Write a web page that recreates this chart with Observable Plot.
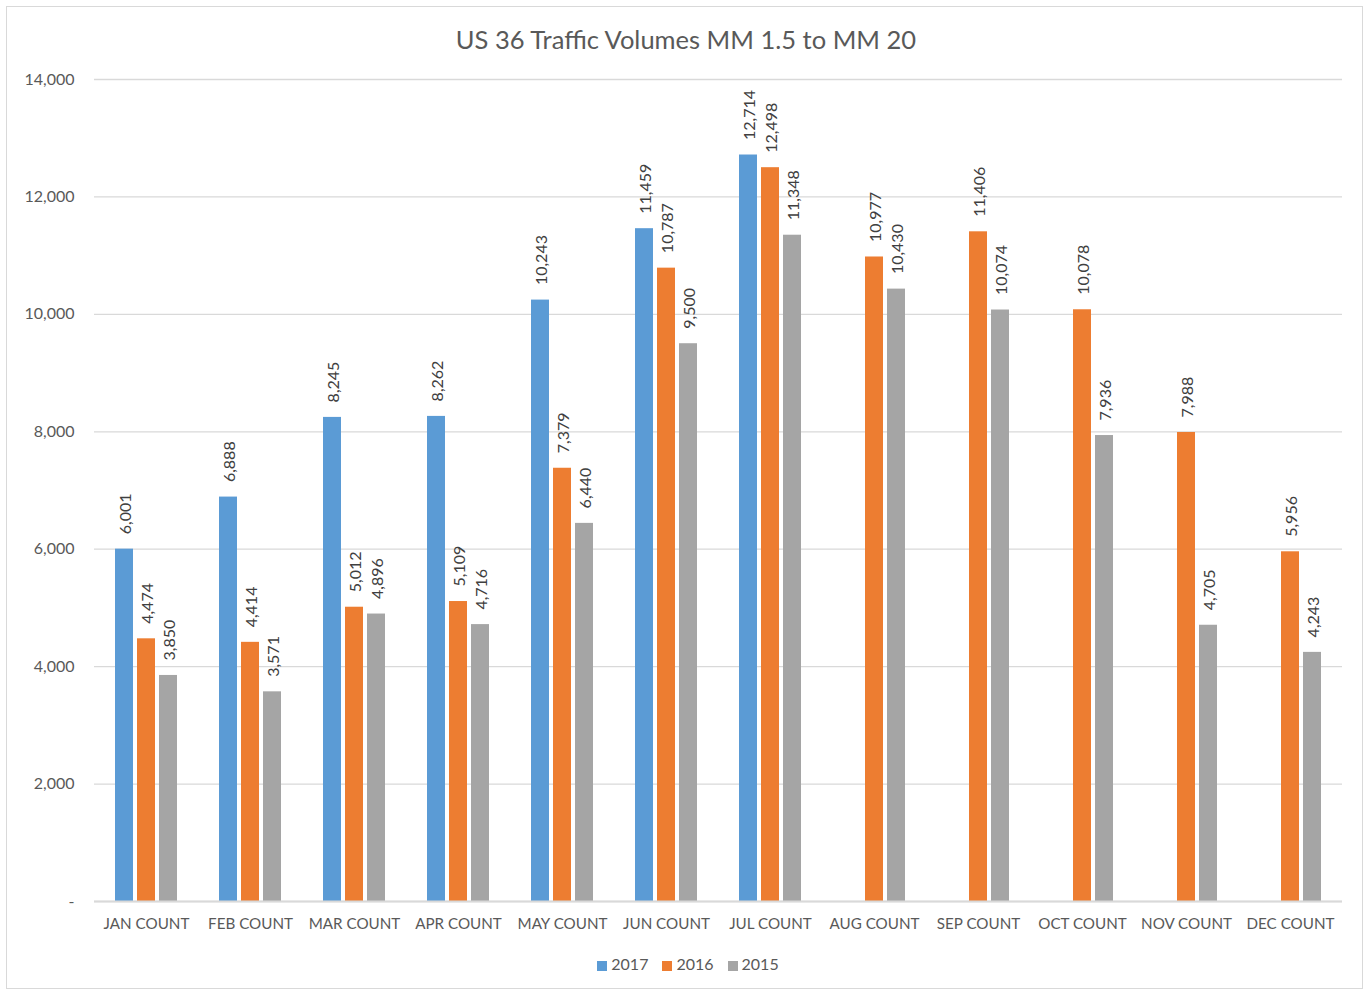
<!DOCTYPE html>
<html><head><meta charset="utf-8">
<script src="https://cdn.jsdelivr.net/npm/d3@7"></script>
<script src="https://cdn.jsdelivr.net/npm/@observablehq/plot@0.6"></script>
<style>
body{margin:0;background:#fff;font-family:Lato,sans-serif;}
#frame{position:absolute;left:6px;top:6px;width:1357px;height:983px;border:1px solid #d9d9d9;box-sizing:border-box;pointer-events:none;}
#title{position:absolute;left:0;top:24px;width:1372px;text-align:center;font-size:25.5px;line-height:30px;color:#595959;}
#chart{position:absolute;left:0;top:0;}
#legend{position:absolute;top:954px;left:0;width:1376px;display:flex;justify-content:center;gap:14px;font-size:16px;line-height:20px;color:#595959;}
#legend span.sw{display:inline-block;width:10px;height:10px;margin-right:4px;vertical-align:-1px;}
</style>
</head><body>
<div id="title">US 36 Traffic Volumes MM 1.5 to MM 20</div>
<div id="chart"></div>
<div id="legend"></div>
<div id="frame"></div>
<script>
const months = ["JAN COUNT","FEB COUNT","MAR COUNT","APR COUNT","MAY COUNT","JUN COUNT","JUL COUNT","AUG COUNT","SEP COUNT","OCT COUNT","NOV COUNT","DEC COUNT"];
const series = ["2017","2016","2015"];
const v2017 = [6001,6888,8245,8262,10243,11459,12714,null,null,null,null,null];
const v2016 = [4474,4414,5012,5109,7379,10787,12498,10977,11406,10078,7988,5956];
const v2015 = [3850,3571,4896,4716,6440,9500,11348,10430,10074,7936,4705,4243];
const colors = ["#5B9BD5","#ED7D31","#A5A5A5"];
const yTicks = [0,2000,4000,6000,8000,10000,12000,14000];

const seriesValues = [v2017, v2016, v2015];
const data = [];
months.forEach((m, i) => {
  seriesValues.forEach((arr, j) => {
    if (arr[i] != null) data.push({month: m, series: series[j], value: arr[i]});
  });
});
const fmt = d3.format(",");

const chart = Plot.plot({
  width: 1369, height: 945,
  marginLeft: 93, marginRight: 26, marginTop: 79, marginBottom: 44,
  style: {fontFamily: "Lato, sans-serif", fontSize: "16px", color: "#595959", background: "transparent"},
  fx: {domain: months, padding: 0, label: null},
  x: {domain: series, paddingInner: 0.174, paddingOuter: 0.85, axis: null},
  y: {domain: [0, 14000]},
  color: {domain: series, range: colors},
  marks: [
    Plot.gridY(yTicks, {stroke: "#d9d9d9", strokeOpacity: 1, strokeWidth: 1.3}),
    Plot.axisY(yTicks, {tickSize: 0, tickPadding: 20, tickFormat: d => d === 0 ? "-" : fmt(d), label: null, fill: "#595959"}),
    Plot.axisFx({anchor: "bottom", tickSize: 0, tickPadding: 17, label: null, fill: "#595959", fontSize: 15.2}),
    Plot.barY(data, {fx: "month", x: "series", y: "value", fill: "series"}),
    Plot.ruleY([0], {stroke: "#d9d9d9", strokeWidth: 2}),
    Plot.text(data, {fx: "month", x: "series", y: "value", text: d => fmt(d.value), rotate: -90, textAnchor: "start", dy: -15, dx: 1, fill: "#404040"})
  ]
});
document.getElementById("chart").appendChild(chart);

const legend = document.getElementById("legend");
series.forEach((s, i) => {
  const item = document.createElement("div");
  item.innerHTML = `<span class="sw" style="background:${colors[i]}"></span>${s}`;
  legend.appendChild(item);
});
</script>
</body></html>
